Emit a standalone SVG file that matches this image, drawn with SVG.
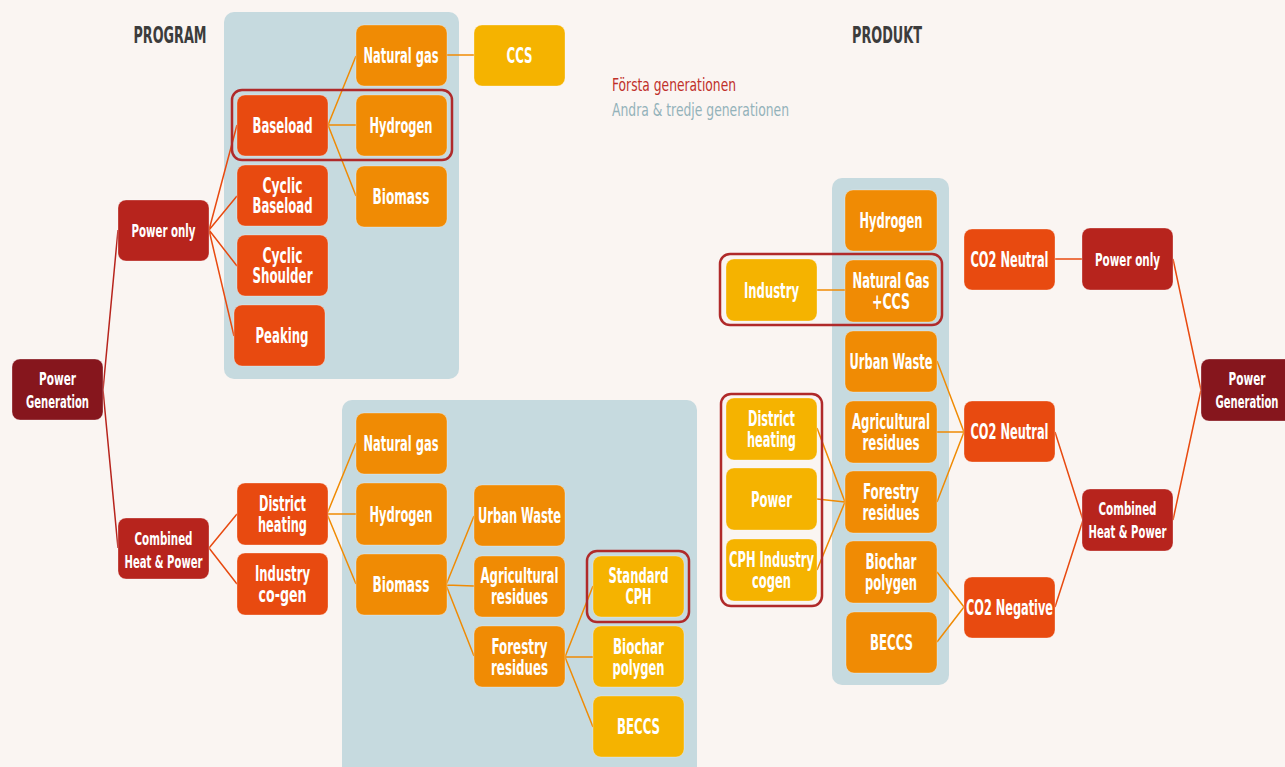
<svg xmlns="http://www.w3.org/2000/svg" width="1285" height="767" viewBox="0 0 1285 767">
  <style>
    text { font-family: "Liberation Sans Narrow", "DejaVu Sans Condensed", "Liberation Sans", sans-serif; font-weight: bold; }
    .box rect { stroke: #ffffff; stroke-opacity: 0.3; stroke-width: 1; }
    .box text { fill: #ffffff; text-anchor: middle; }
    .lg { font-size: 22px; }
    .sm { font-size: 18px; }
    .maroon rect { fill: #86161D; }
    .red rect { fill: #B7241D; }
    .ored rect { fill: #E84A10; }
    .orange rect { fill: #F08B04; }
    .yellow rect { fill: #F5B300; }
    .panel { fill: #C6DADF; }
    .hl { fill: none; stroke: #B02A2A; stroke-width: 2.5; }
    .title { fill: #3C3C3C; font-size: 23px; text-anchor: middle; }
    .c-red { stroke: #B7241D; }
    .c-ored { stroke: #E84A10; }
    .c-orange { stroke: #F08B04; }
    #connectors path { fill: none; stroke-width: 1.5; }
  </style>

  <rect width="1285" height="767" fill="#FAF5F2"/>

  <!-- grouping panels -->
  <rect class="panel" x="224" y="12" width="235" height="367" rx="10"/>
  <rect class="panel" x="342" y="400" width="355" height="380" rx="10"/>
  <rect class="panel" x="832" y="178" width="117" height="507" rx="10"/>

  <!-- headings and legend -->
  <text class="title" x="170" y="43" textLength="73" lengthAdjust="spacingAndGlyphs">PROGRAM</text>
  <text class="title" x="887" y="43" textLength="70" lengthAdjust="spacingAndGlyphs">PRODUKT</text>
  <text x="612" y="91" font-size="18" fill="#C0302A" font-weight="normal" textLength="124" lengthAdjust="spacingAndGlyphs" style="font-weight:normal">Första generationen</text>
  <text x="612" y="116" font-size="18" fill="#93B2BA" textLength="177" lengthAdjust="spacingAndGlyphs" style="font-weight:normal">Andra &amp; tredje generationen</text>

  <!-- connectors -->
  <g id="connectors">
    <!-- program tree -->
    <path class="c-red" d="M103,390 L118,230 M103,390 L118,548"/>
    <path class="c-ored" d="M209,230 L237,125 M209,230 L237,196 M209,230 L237,266 M209,230 L234,336"/>
    <path class="c-orange" d="M328,125 L356,56 M328,125 L356,125 M328,125 L356,196"/>
    <path class="c-orange" d="M446,55 L474,55"/>
    <path class="c-ored" d="M209,548 L237,514 M209,548 L237,584"/>
    <path class="c-orange" d="M327,514 L356,443 M327,514 L356,514 M327,514 L356,584"/>
    <path class="c-orange" d="M446,585 L474,516 M446,585 L474,586 M446,585 L474,656"/>
    <path class="c-orange" d="M565,657 L593,586 M565,657 L593,657 M565,657 L593,727"/>
    <!-- product tree -->
    <path class="c-orange" d="M817,290 L845,290"/>
    <path class="c-orange" d="M817,428 L845,502 M817,499 L845,502 M817,570 L845,502"/>
    <path class="c-orange" d="M937,361 L964,432 M937,432 L964,432 M937,502 L964,432"/>
    <path class="c-orange" d="M937,572 L964,607 M937,642 L964,607"/>
    <path class="c-ored" d="M1055,259 L1083,259"/>
    <path class="c-ored" d="M1055,432 L1083,520 M1055,607 L1083,520"/>
    <path class="c-ored" d="M1173,259 L1201,390 M1173,520 L1201,390"/>
  </g>

  <!-- program side -->
  <g id="pg1" class="box maroon"><rect x="12" y="359" width="91" height="61" rx="8"/>
    <text class="sm" x="57.5" y="385" textLength="37" lengthAdjust="spacingAndGlyphs">Power</text>
    <text class="sm" x="57.5" y="408" textLength="63" lengthAdjust="spacingAndGlyphs">Generation</text></g>
  <g id="po1" class="box red"><rect x="118" y="200" width="91" height="61" rx="8"/>
    <text class="sm" x="163.5" y="237" textLength="64" lengthAdjust="spacingAndGlyphs">Power only</text></g>
  <g id="chp1" class="box red"><rect x="118" y="518" width="91" height="61" rx="8"/>
    <text class="sm" x="163.5" y="545" textLength="58" lengthAdjust="spacingAndGlyphs">Combined</text>
    <text class="sm" x="163.5" y="568" textLength="78" lengthAdjust="spacingAndGlyphs">Heat &amp; Power</text></g>

  <g id="baseload" class="box ored"><rect x="237" y="95" width="91" height="61" rx="8"/>
    <text class="lg" x="282.5" y="133" textLength="60" lengthAdjust="spacingAndGlyphs">Baseload</text></g>
  <g id="cyclic-baseload" class="box ored"><rect x="237" y="165" width="91" height="61" rx="8"/>
    <text class="lg" x="282.5" y="193" textLength="40" lengthAdjust="spacingAndGlyphs">Cyclic</text>
    <text class="lg" x="282.5" y="213" textLength="60" lengthAdjust="spacingAndGlyphs">Baseload</text></g>
  <g id="cyclic-shoulder" class="box ored"><rect x="237" y="235" width="91" height="61" rx="8"/>
    <text class="lg" x="282.5" y="263" textLength="40" lengthAdjust="spacingAndGlyphs">Cyclic</text>
    <text class="lg" x="282.5" y="283" textLength="60" lengthAdjust="spacingAndGlyphs">Shoulder</text></g>
  <g id="peaking" class="box ored"><rect x="234" y="305" width="91" height="61" rx="8"/>
    <text class="lg" x="282" y="343" textLength="53" lengthAdjust="spacingAndGlyphs">Peaking</text></g>

  <g id="ng1" class="box orange"><rect x="356" y="25" width="91" height="61" rx="8"/>
    <text class="lg" x="401" y="63" textLength="75" lengthAdjust="spacingAndGlyphs">Natural gas</text></g>
  <g id="h1" class="box orange"><rect x="356" y="95" width="91" height="61" rx="8"/>
    <text class="lg" x="401" y="133" textLength="63" lengthAdjust="spacingAndGlyphs">Hydrogen</text></g>
  <g id="bio1" class="box orange"><rect x="356" y="166" width="91" height="61" rx="8"/>
    <text class="lg" x="401" y="204" textLength="57" lengthAdjust="spacingAndGlyphs">Biomass</text></g>
  <g id="ccs" class="box yellow"><rect x="474" y="25" width="91" height="61" rx="8"/>
    <text class="lg" x="519.5" y="63" textLength="26" lengthAdjust="spacingAndGlyphs">CCS</text></g>

  <g id="dh1" class="box ored"><rect x="237" y="483" width="91" height="62" rx="8"/>
    <text class="lg" x="282.5" y="511" textLength="47" lengthAdjust="spacingAndGlyphs">District</text>
    <text class="lg" x="282.5" y="532" textLength="49" lengthAdjust="spacingAndGlyphs">heating</text></g>
  <g id="icg" class="box ored"><rect x="237" y="553" width="91" height="62" rx="8"/>
    <text class="lg" x="282.5" y="581" textLength="55" lengthAdjust="spacingAndGlyphs">Industry</text>
    <text class="lg" x="282.5" y="602" textLength="48" lengthAdjust="spacingAndGlyphs">co-gen</text></g>

  <g id="ng2" class="box orange"><rect x="356" y="413" width="91" height="61" rx="8"/>
    <text class="lg" x="401" y="451" textLength="75" lengthAdjust="spacingAndGlyphs">Natural gas</text></g>
  <g id="h2" class="box orange"><rect x="356" y="483" width="91" height="62" rx="8"/>
    <text class="lg" x="401" y="522" textLength="63" lengthAdjust="spacingAndGlyphs">Hydrogen</text></g>
  <g id="bio2" class="box orange"><rect x="356" y="554" width="91" height="61" rx="8"/>
    <text class="lg" x="401" y="592" textLength="57" lengthAdjust="spacingAndGlyphs">Biomass</text></g>

  <g id="uw1" class="box orange"><rect x="474" y="485" width="91" height="61" rx="8"/>
    <text class="lg" x="519.5" y="523" textLength="83" lengthAdjust="spacingAndGlyphs">Urban Waste</text></g>
  <g id="ag1" class="box orange"><rect x="474" y="556" width="91" height="61" rx="8"/>
    <text class="lg" x="519.5" y="583" textLength="78" lengthAdjust="spacingAndGlyphs">Agricultural</text>
    <text class="lg" x="519.5" y="604" textLength="57" lengthAdjust="spacingAndGlyphs">residues</text></g>
  <g id="fr1" class="box orange"><rect x="474" y="626" width="91" height="61" rx="8"/>
    <text class="lg" x="519.5" y="654" textLength="56" lengthAdjust="spacingAndGlyphs">Forestry</text>
    <text class="lg" x="519.5" y="675" textLength="57" lengthAdjust="spacingAndGlyphs">residues</text></g>

  <g id="scph" class="box yellow"><rect x="593" y="556" width="91" height="61" rx="8"/>
    <text class="lg" x="638.5" y="583" textLength="60" lengthAdjust="spacingAndGlyphs">Standard</text>
    <text class="lg" x="638.5" y="604" textLength="26" lengthAdjust="spacingAndGlyphs">CPH</text></g>
  <g id="bch1" class="box yellow"><rect x="593" y="626" width="91" height="61" rx="8"/>
    <text class="lg" x="638.5" y="654" textLength="51" lengthAdjust="spacingAndGlyphs">Biochar</text>
    <text class="lg" x="638.5" y="675" textLength="52" lengthAdjust="spacingAndGlyphs">polygen</text></g>
  <g id="beccs1" class="box yellow"><rect x="593" y="696" width="91" height="61" rx="8"/>
    <text class="lg" x="638.5" y="734" textLength="43" lengthAdjust="spacingAndGlyphs">BECCS</text></g>

  <!-- product side -->
  <g id="h3" class="box orange"><rect x="845" y="190" width="92" height="61" rx="8"/>
    <text class="lg" x="891" y="228" textLength="63" lengthAdjust="spacingAndGlyphs">Hydrogen</text></g>
  <g id="ngccs" class="box orange"><rect x="845" y="260" width="92" height="62" rx="8"/>
    <text class="lg" x="891" y="288" textLength="77" lengthAdjust="spacingAndGlyphs">Natural Gas</text>
    <text class="lg" x="891" y="309" textLength="38" lengthAdjust="spacingAndGlyphs">+CCS</text></g>
  <g id="uw2" class="box orange"><rect x="845" y="331" width="92" height="61" rx="8"/>
    <text class="lg" x="891" y="369" textLength="83" lengthAdjust="spacingAndGlyphs">Urban Waste</text></g>
  <g id="ag2" class="box orange"><rect x="845" y="401" width="92" height="62" rx="8"/>
    <text class="lg" x="891" y="429" textLength="78" lengthAdjust="spacingAndGlyphs">Agricultural</text>
    <text class="lg" x="891" y="450" textLength="57" lengthAdjust="spacingAndGlyphs">residues</text></g>
  <g id="fr2" class="box orange"><rect x="845" y="471" width="92" height="62" rx="8"/>
    <text class="lg" x="891" y="499" textLength="56" lengthAdjust="spacingAndGlyphs">Forestry</text>
    <text class="lg" x="891" y="520" textLength="57" lengthAdjust="spacingAndGlyphs">residues</text></g>
  <g id="bch2" class="box orange"><rect x="845" y="541" width="92" height="62" rx="8"/>
    <text class="lg" x="891" y="569" textLength="51" lengthAdjust="spacingAndGlyphs">Biochar</text>
    <text class="lg" x="891" y="590" textLength="52" lengthAdjust="spacingAndGlyphs">polygen</text></g>
  <g id="beccs2" class="box orange"><rect x="846" y="612" width="91" height="61" rx="8"/>
    <text class="lg" x="891.5" y="650" textLength="43" lengthAdjust="spacingAndGlyphs">BECCS</text></g>

  <g id="ind" class="box yellow"><rect x="726" y="259" width="91" height="62" rx="8"/>
    <text class="lg" x="771.5" y="298" textLength="55" lengthAdjust="spacingAndGlyphs">Industry</text></g>
  <g id="dh2" class="box yellow"><rect x="726" y="398" width="91" height="62" rx="8"/>
    <text class="lg" x="771.5" y="426" textLength="47" lengthAdjust="spacingAndGlyphs">District</text>
    <text class="lg" x="771.5" y="447" textLength="49" lengthAdjust="spacingAndGlyphs">heating</text></g>
  <g id="pw" class="box yellow"><rect x="726" y="468" width="91" height="62" rx="8"/>
    <text class="lg" x="771.5" y="507" textLength="41" lengthAdjust="spacingAndGlyphs">Power</text></g>
  <g id="cph" class="box yellow"><rect x="726" y="539" width="91" height="62" rx="8"/>
    <text class="lg" x="771.5" y="567" textLength="85" lengthAdjust="spacingAndGlyphs">CPH Industry</text>
    <text class="lg" x="771.5" y="588" textLength="39" lengthAdjust="spacingAndGlyphs">cogen</text></g>

  <g id="co2n1" class="box ored"><rect x="964" y="229" width="91" height="61" rx="8"/>
    <text class="lg" x="1009.5" y="267" textLength="78" lengthAdjust="spacingAndGlyphs">CO2 Neutral</text></g>
  <g id="co2n2" class="box ored"><rect x="964" y="401" width="91" height="61" rx="8"/>
    <text class="lg" x="1009.5" y="439" textLength="78" lengthAdjust="spacingAndGlyphs">CO2 Neutral</text></g>
  <g id="co2neg" class="box ored"><rect x="964" y="577" width="91" height="61" rx="8"/>
    <text class="lg" x="1009.5" y="615" textLength="87" lengthAdjust="spacingAndGlyphs">CO2 Negative</text></g>

  <g id="po2" class="box red"><rect x="1082" y="228" width="91" height="62" rx="8"/>
    <text class="sm" x="1127.5" y="266" textLength="65" lengthAdjust="spacingAndGlyphs">Power only</text></g>
  <g id="chp2" class="box red"><rect x="1082" y="489" width="91" height="62" rx="8"/>
    <text class="sm" x="1127.5" y="515" textLength="58" lengthAdjust="spacingAndGlyphs">Combined</text>
    <text class="sm" x="1127.5" y="538" textLength="78" lengthAdjust="spacingAndGlyphs">Heat &amp; Power</text></g>
  <g id="pg2" class="box maroon"><rect x="1201" y="359" width="92" height="62" rx="8"/>
    <text class="sm" x="1247" y="385" textLength="37" lengthAdjust="spacingAndGlyphs">Power</text>
    <text class="sm" x="1247" y="408" textLength="63" lengthAdjust="spacingAndGlyphs">Generation</text></g>

  <!-- first-generation highlight frames -->
  <g id="highlights">
    <rect class="hl" x="232" y="90" width="220" height="70" rx="10"/>
    <rect class="hl" x="587" y="551" width="102" height="71" rx="10"/>
    <rect class="hl" x="720" y="254" width="222" height="71" rx="10"/>
    <rect class="hl" x="721" y="394" width="101" height="212" rx="10"/>
  </g>
</svg>
